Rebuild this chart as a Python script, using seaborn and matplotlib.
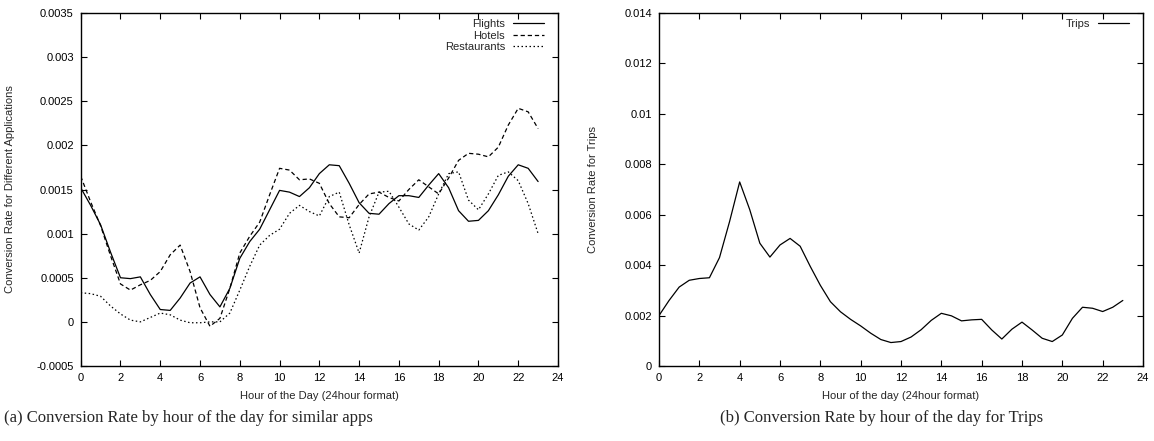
import numpy as np
import pandas as pd
import matplotlib
matplotlib.use("Agg")
import matplotlib.pyplot as plt
import seaborn as sns
from matplotlib.ticker import FuncFormatter, MultipleLocator

hours = [0, 0.5, 1, 1.5, 2, 2.5, 3, 3.5, 4, 4.5, 5, 5.5, 6, 6.5, 7, 7.5, 8, 8.5,
         9, 9.5, 10, 10.5, 11, 11.5, 12, 12.5, 13, 13.5, 14, 14.5, 15, 15.5, 16,
         16.5, 17, 17.5, 18, 18.5, 19, 19.5, 20, 20.5, 21, 21.5, 22, 22.5, 23]

flights = [0.00152, 0.00132, 0.00110, 0.00079, 0.00050, 0.00049, 0.00051, 0.00031,
           0.00014, 0.00013, 0.00027, 0.00044, 0.00051, 0.00031, 0.00017, 0.00038,
           0.00072, 0.00091, 0.00105, 0.00127, 0.00149, 0.00147, 0.00142, 0.00152,
           0.00168, 0.00178, 0.00177, 0.00157, 0.00135, 0.00123, 0.00122, 0.00134,
           0.00143, 0.00143, 0.00141, 0.00155, 0.00168, 0.00152, 0.00126, 0.00114,
           0.00115, 0.00126, 0.00144, 0.00165, 0.00178, 0.00174, 0.00159]

hotels = [0.00165, 0.00136, 0.00109, 0.00075, 0.00043, 0.00036, 0.00042, 0.00047,
          0.00057, 0.00076, 0.00087, 0.00057, 0.00016, -0.00005, 0.00004, 0.00038,
          0.00078, 0.00097, 0.00113, 0.00144, 0.00174, 0.00172, 0.00161, 0.00162,
          0.00157, 0.00134, 0.00119, 0.00118, 0.00133, 0.00145, 0.00147, 0.00141,
          0.00137, 0.00150, 0.00161, 0.00153, 0.00145, 0.00163, 0.00183, 0.00191,
          0.00190, 0.00187, 0.00198, 0.00223, 0.00242, 0.00238, 0.00219]

restaurants = [0.00033, 0.00032, 0.00029, 0.00018, 0.00009, 0.00002, 0.00000, 0.00005,
               0.00010, 0.00008, 0.00002, -0.00001, -0.00001, 0.00000, 0.00000, 0.00010,
               0.00036, 0.00063, 0.00087, 0.00098, 0.00105, 0.00123, 0.00132, 0.00125,
               0.00120, 0.00142, 0.00147, 0.00110, 0.00078, 0.00119, 0.00147, 0.00148,
               0.00130, 0.00111, 0.00104, 0.00119, 0.00145, 0.00168, 0.00170, 0.00138,
               0.00127, 0.00145, 0.00166, 0.00170, 0.00160, 0.00134, 0.00100]

trips = [0.00200, 0.00260, 0.00313, 0.00340, 0.00347, 0.00350, 0.00430, 0.00573,
         0.00730, 0.00620, 0.00487, 0.00432, 0.00480, 0.00506, 0.00475, 0.00395,
         0.00320, 0.00255, 0.00215, 0.00185, 0.00159, 0.00130, 0.00105, 0.00093,
         0.00097, 0.00115, 0.00144, 0.00181, 0.00209, 0.00199, 0.00179, 0.00183,
         0.00185, 0.00143, 0.00107, 0.00146, 0.00174, 0.00143, 0.00110, 0.00097,
         0.00123, 0.00189, 0.00233, 0.00229, 0.00216, 0.00233, 0.00260]

x_ticks = list(range(0, 25, 2))
left_title_x = "Hour of the Day (24hour format)"
left_title_y = "Conversion Rate for Different Applications"
right_title_x = "Hour of the day (24hour format)"
right_title_y = "Conversion Rate for Trips"
caption_a = "(a) Conversion Rate by hour of the day for similar apps"
caption_b = "(b) Conversion Rate by hour of the day for Trips"

sns.set_style("ticks")
plt.rcParams['font.family'] = ['Liberation Sans', 'DejaVu Sans']
plt.rcParams['axes.linewidth'] = 1.0

fig = plt.figure(figsize=(11.54, 4.41), dpi=100)
W, H = 1154, 441
axL = fig.add_axes([80.7 / W, 1 - 366 / H, (558 - 80.7) / W, 353 / H])
axR = fig.add_axes([659 / W, 1 - 366 / H, (1143 - 659) / W, 353 / H])

df_apps = pd.DataFrame({"hour": hours * 3,
                        "rate": flights + hotels + restaurants,
                        "app": ["Flights"] * len(hours) + ["Hotels"] * len(hours)
                               + ["Restaurants"] * len(hours)})
df_trips = pd.DataFrame({"hour": hours, "rate": trips, "app": ["Trips"] * len(hours)})

lw = 0.9
sns.lineplot(data=df_apps, x="hour", y="rate", hue="app", style="app",
             palette={"Flights": "black", "Hotels": "black", "Restaurants": "black"},
             dashes={"Flights": "", "Hotels": (3.4, 2.3), "Restaurants": (1.2, 2.0)},
             linewidth=lw, ax=axL, legend=True)
sns.lineplot(data=df_trips, x="hour", y="rate", color="black", linewidth=lw,
             ax=axR, label="Trips")

fmt = FuncFormatter(lambda v, p: "%g" % round(v, 6))
for ax in (axL, axR):
    ax.set_xlim(0, 24)
    ax.set_xticks(x_ticks)
    ax.tick_params(direction="in", top=True, right=True, length=4, width=0.8,
                   labelsize=8, pad=5, colors="black")
    ax.yaxis.set_major_formatter(fmt)
    for s in ax.spines.values():
        s.set_color("black")

axL.set_ylim(-0.0005, 0.0035)
axL.yaxis.set_major_locator(MultipleLocator(0.0005))
axR.set_ylim(0, 0.014)
axR.yaxis.set_major_locator(MultipleLocator(0.002))

axL.set_xlabel(left_title_x, fontsize=8, labelpad=6)
axL.set_ylabel(left_title_y, fontsize=8)
axL.yaxis.set_label_coords(-0.138, 0.5)
axR.set_xlabel(right_title_x, fontsize=8, labelpad=6)
axR.set_ylabel(right_title_y, fontsize=8)
axR.yaxis.set_label_coords(-0.125, 0.5)

for ax, wpx in ((axL, 477.3), (axR, 484.0)):
    h_, l_ = ax.get_legend_handles_labels()
    ax.legend(h_, l_, loc="upper right",
              bbox_to_anchor=(1 - 12 / wpx, 1 - 4.0 / 353),
              markerfirst=False, frameon=False,
              fontsize=8, handlelength=2.8, handletextpad=0.7,
              labelspacing=0.12, borderaxespad=0.0, borderpad=0.2)

fig.text(188 / W, 1 - 418 / H, caption_a, ha="center", va="center",
         fontsize=12, family="Liberation Serif")
fig.text(882 / W, 1 - 418 / H, caption_b, ha="center", va="center",
         fontsize=12, family="Liberation Serif")

fig.savefig("out.png", dpi=100)
